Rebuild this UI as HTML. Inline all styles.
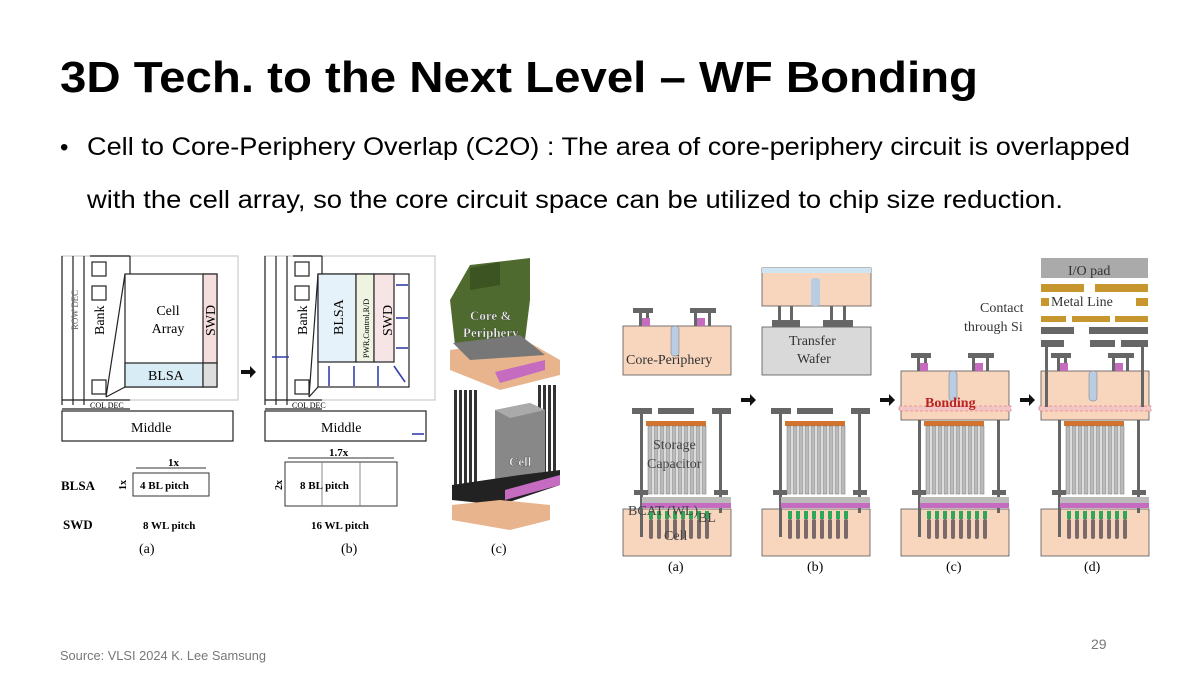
<!DOCTYPE html>
<html><head><meta charset="utf-8"><style>
html,body{margin:0;padding:0;background:#fff;}
svg{display:block;}
text{font-family:"Liberation Serif",serif;}
.s{font-family:"Liberation Sans",sans-serif;}
</style></head><body>
<svg width="1200" height="675" viewBox="0 0 1200 675" xmlns="http://www.w3.org/2000/svg">
<rect width="1200" height="675" fill="#fff"/>
<text class="s" x="60" y="92" font-size="44" font-weight="bold" textLength="918" lengthAdjust="spacingAndGlyphs">3D Tech. to the Next Level – WF Bonding</text>
<text class="s" x="60" y="155" font-size="24">•</text>
<text class="s" x="87" y="155" font-size="25" textLength="1043" lengthAdjust="spacingAndGlyphs">Cell to Core-Periphery Overlap (C2O) : The area of core-periphery circuit is overlapped</text>
<text class="s" x="87" y="208" font-size="25" textLength="976" lengthAdjust="spacingAndGlyphs">with the cell array, so the core circuit space can be utilized to chip size reduction.</text>
<text class="s" x="60" y="660" font-size="13" fill="#777" textLength="206" lengthAdjust="spacingAndGlyphs">Source: VLSI 2024 K. Lee Samsung</text>
<text class="s" x="1091" y="649" font-size="14" fill="#777">29</text>

<!-- LEFT (a) -->
<g stroke="#222" stroke-width="1.2" fill="none">
<rect x="62" y="256" width="176" height="144" stroke="#ccc"/>
<line x1="62" y1="256" x2="62" y2="405"/><line x1="73" y1="256" x2="73" y2="405"/><line x1="84" y1="256" x2="84" y2="405"/>
<line x1="90" y1="256" x2="130" y2="256"/><line x1="130" y1="256" x2="130" y2="274"/>
<rect x="92" y="262" width="14" height="14"/><rect x="92" y="286" width="14" height="14"/><rect x="92" y="380" width="14" height="14"/>
<line x1="106" y1="397" x2="125" y2="274"/><line x1="106" y1="397" x2="125" y2="387"/>
<rect x="125" y="274" width="92" height="113" fill="#fff"/>
<rect x="125" y="363" width="78" height="24" fill="#d8ecf5"/>
<rect x="203" y="274" width="14" height="89" fill="#f5dede"/>
<rect x="203" y="363" width="14" height="24" fill="#ddd"/>
<line x1="62" y1="400" x2="130" y2="400"/><line x1="62" y1="409" x2="130" y2="409"/>
<rect x="62" y="411" width="171" height="30" fill="#fff"/>
</g>
<text x="78" y="330" font-size="9" fill="#666" transform="rotate(-90 78 330)" textLength="40">ROW DEC</text>
<text x="104" y="335" font-size="14" transform="rotate(-90 104 335)">Bank</text>
<text x="168" y="315" font-size="14" text-anchor="middle">Cell</text>
<text x="168" y="333" font-size="14" text-anchor="middle">Array</text>
<text x="215" y="336" font-size="14" transform="rotate(-90 215 336)">SWD</text>
<text x="148" y="380" font-size="14">BLSA</text>
<text x="90" y="408" font-size="8">COL DEC</text>
<text x="131" y="432" font-size="14">Middle</text>
<path d="M241 370 h9 v-4 l6 6 l-6 6 v-4 h-9z" fill="#111"/>

<!-- LEFT (b) -->
<g stroke="#222" stroke-width="1.2" fill="none">
<rect x="265" y="256" width="170" height="144" stroke="#ccc"/>
<line x1="265" y1="256" x2="265" y2="405"/><line x1="276" y1="256" x2="276" y2="405"/><line x1="287" y1="256" x2="287" y2="405"/>
<line x1="293" y1="256" x2="322" y2="256"/><line x1="322" y1="256" x2="322" y2="274"/>
<rect x="295" y="262" width="14" height="14"/><rect x="295" y="286" width="14" height="14"/><rect x="295" y="380" width="14" height="14"/>
<line x1="309" y1="397" x2="318" y2="274"/><line x1="309" y1="397" x2="318" y2="387"/>
<rect x="318" y="274" width="91" height="113" fill="#fff"/>
<rect x="318" y="274" width="38" height="88" fill="#e6f2f9"/>
<rect x="356" y="274" width="18" height="88" fill="#eef3e2"/>
<rect x="374" y="274" width="20" height="88" fill="#f7e5e5"/>
<line x1="265" y1="400" x2="322" y2="400"/><line x1="265" y1="409" x2="322" y2="409"/>
<rect x="265" y="411" width="161" height="30" fill="#fff"/>
</g>
<g stroke="#3340aa" stroke-width="1.6" fill="none">
<line x1="329" y1="386" x2="329" y2="366"/><line x1="354" y1="386" x2="354" y2="366"/><line x1="378" y1="386" x2="378" y2="366"/>
<line x1="408" y1="285" x2="396" y2="285"/><line x1="408" y1="318" x2="396" y2="318"/><line x1="408" y1="348" x2="396" y2="348"/>
<line x1="405" y1="382" x2="394" y2="366"/><line x1="272" y1="357" x2="289" y2="357"/><line x1="424" y1="434" x2="412" y2="434"/>
</g>
<text x="343" y="335" font-size="14" transform="rotate(-90 343 335)">BLSA</text>
<text x="369" y="358" font-size="8" transform="rotate(-90 369 358)">PWR,Control,R/D</text>
<text x="392" y="336" font-size="14" transform="rotate(-90 392 336)">SWD</text>
<text x="307" y="335" font-size="14" transform="rotate(-90 307 335)">Bank</text>
<text x="292" y="408" font-size="8">COL DEC</text>
<text x="321" y="432" font-size="14">Middle</text>

<!-- bottom tables -->
<text x="61" y="490" font-size="13" font-weight="bold">BLSA</text>
<text x="63" y="529" font-size="13" font-weight="bold">SWD</text>
<rect x="133" y="473" width="76" height="23" fill="none" stroke="#333"/>
<line x1="136" y1="468" x2="206" y2="468" stroke="#333"/>
<text x="168" y="466" font-size="11" font-weight="bold">1x</text>
<text x="140" y="489" font-size="11" font-weight="bold">4 BL pitch</text>
<text x="126" y="490" font-size="10" font-weight="bold" transform="rotate(-90 126 490)">1x</text>
<text x="143" y="529" font-size="11" font-weight="bold">8 WL pitch</text>
<rect x="285" y="462" width="112" height="44" fill="none" stroke="#333"/>
<line x1="288" y1="458" x2="394" y2="458" stroke="#333"/>
<line x1="322" y1="462" x2="322" y2="506" stroke="#888"/><line x1="360" y1="462" x2="360" y2="506" stroke="#888"/>
<text x="329" y="456" font-size="11" font-weight="bold">1.7x</text>
<text x="300" y="489" font-size="11" font-weight="bold">8 BL pitch</text>
<text x="282" y="490" font-size="10" font-weight="bold" transform="rotate(-90 282 490)">2x</text>
<text x="311" y="529" font-size="11" font-weight="bold">16 WL pitch</text>
<text x="139" y="553" font-size="14">(a)</text>
<text x="341" y="553" font-size="14">(b)</text>
<text x="491" y="553" font-size="14">(c)</text>

<!-- LEFT (c) 3D -->
<polygon points="450,300 470,265 530,258 530,300 525,340 455,345" fill="#4e6a2e"/>
<polygon points="470,268 500,262 500,285 470,290" fill="#3c5422"/>
<text x="470" y="320" font-size="13" font-weight="bold" fill="#eee" stroke="#333" stroke-width="0.3">Core &amp;</text>
<text x="463" y="337" font-size="13" font-weight="bold" fill="#eee" stroke="#333" stroke-width="0.3">Periphery</text>
<polygon points="450,350 525,340 560,360 560,375 500,390 450,370" fill="#e8b48e"/>
<polygon points="453,343 520,335 545,355 470,360" fill="#777"/>
<polygon points="495,372 545,360 545,370 500,383" fill="#c56bc0"/>
<g fill="#333">
<rect x="454" y="390" width="3" height="95"/><rect x="459" y="390" width="3" height="95"/><rect x="464" y="390" width="3" height="95"/><rect x="469" y="390" width="3" height="95"/><rect x="474" y="390" width="3" height="95"/>
<rect x="538" y="385" width="3" height="90"/><rect x="543" y="385" width="3" height="90"/><rect x="548" y="385" width="3" height="90"/><rect x="553" y="385" width="3" height="90"/>
</g>
<polygon points="495,410 530,403 545,410 545,475 505,490 495,480" fill="#888"/>
<polygon points="495,410 530,403 545,410 510,418" fill="#aaa"/>
<text x="509" y="466" font-size="13" font-weight="bold" fill="#eee" stroke="#333" stroke-width="0.3">Cell</text>
<polygon points="452,485 520,475 560,470 560,485 500,505 452,500" fill="#222"/>
<polygon points="505,490 560,475 560,485 505,500" fill="#c56bc0"/>
<polygon points="452,505 500,500 550,505 550,520 510,530 452,520" fill="#e8b48e"/>

<!-- RIGHT figure -->
<defs>
<g id="cell">
<rect x="623" y="509" width="108" height="47" fill="#f8d5bd" stroke="#555" stroke-width="0.8"/>
<rect x="632" y="408" width="20" height="6" fill="#666"/><rect x="658" y="408" width="36" height="6" fill="#666"/><rect x="712" y="408" width="19" height="6" fill="#666"/>
<rect x="640" y="413" width="3" height="124" fill="#666"/><rect x="719" y="413" width="3" height="100" fill="#666"/>
<rect x="646" y="421" width="60" height="5" fill="#d3742e"/>
<g fill="#bbb" stroke="#777" stroke-width="0.5">
<rect x="648" y="426" width="4" height="68"/><rect x="654" y="426" width="4" height="68"/><rect x="660" y="426" width="4" height="68"/><rect x="666" y="426" width="4" height="68"/><rect x="672" y="426" width="4" height="68"/><rect x="678" y="426" width="4" height="68"/><rect x="684" y="426" width="4" height="68"/><rect x="690" y="426" width="4" height="68"/><rect x="696" y="426" width="4" height="68"/><rect x="702" y="426" width="4" height="68"/>
</g>
<rect x="634" y="490" width="14" height="5" fill="#666"/><rect x="714" y="490" width="14" height="5" fill="#666"/>
<rect x="642" y="497" width="89" height="6" fill="#bbb"/><rect x="642" y="503" width="89" height="5" fill="#c56bc0"/>
<g fill="#2fa55a"><rect x="649" y="511" width="4" height="8"/><rect x="657" y="511" width="4" height="8"/><rect x="665" y="511" width="4" height="8"/><rect x="673" y="511" width="4" height="8"/><rect x="681" y="511" width="4" height="8"/><rect x="689" y="511" width="4" height="8"/><rect x="697" y="511" width="4" height="8"/><rect x="705" y="511" width="4" height="8"/></g>
<g fill="#7a6a6a"><rect x="649" y="519" width="4" height="20" rx="2"/><rect x="657" y="519" width="4" height="20" rx="2"/><rect x="665" y="519" width="4" height="20" rx="2"/><rect x="673" y="519" width="4" height="20" rx="2"/><rect x="681" y="519" width="4" height="20" rx="2"/><rect x="689" y="519" width="4" height="20" rx="2"/><rect x="697" y="519" width="4" height="20" rx="2"/><rect x="705" y="519" width="4" height="20" rx="2"/></g>
</g>
<g id="cp">
<rect x="623" y="326" width="108" height="49" fill="#f8d5bd" stroke="#555" stroke-width="0.8"/>
<rect x="671" y="326" width="8" height="30" rx="3" fill="#b8cce4" stroke="#777" stroke-width="0.5"/>
<rect x="633" y="308" width="20" height="5" fill="#666"/><rect x="639" y="313" width="3" height="13" fill="#666"/><rect x="646" y="313" width="3" height="13" fill="#666"/>
<rect x="690" y="308" width="26" height="5" fill="#666"/><rect x="694" y="313" width="3" height="13" fill="#666"/><rect x="708" y="313" width="3" height="13" fill="#666"/>
<rect x="642" y="318" width="8" height="8" fill="#c56bc0"/><rect x="697" y="318" width="8" height="8" fill="#c56bc0"/>
</g>
</defs>
<use href="#cell"/>
<use href="#cell" transform="translate(139 0)"/>
<use href="#cell" transform="translate(278 0)"/>
<use href="#cell" transform="translate(418 0)"/>
<use href="#cp"/>
<use href="#cp" transform="translate(278 45)"/>
<use href="#cp" transform="translate(418 45)"/>
<text x="626" y="364" font-size="14" fill="#333">Core-Periphery</text>
<text x="653" y="449" font-size="14" fill="#444">Storage</text>
<text x="647" y="468" font-size="14" fill="#444">Capacitor</text>
<text x="698" y="522" font-size="14" fill="#444">BL</text>
<text x="628" y="515" font-size="14" fill="#444">BCAT (WL)</text>
<text x="664" y="540" font-size="14" fill="#444">Cell</text>
<!-- transfer wafer -->
<rect x="762" y="268" width="109" height="38" fill="#f8d5bd" stroke="#555" stroke-width="0.8"/>
<rect x="762" y="268" width="109" height="5" fill="#cfe6f2"/>
<rect x="811" y="278" width="9" height="28" rx="3" fill="#b8cce4"/>
<rect x="762" y="327" width="109" height="48" fill="#d9d9d9" stroke="#555" stroke-width="0.8"/>
<rect x="778" y="306" width="3" height="16" fill="#666"/><rect x="790" y="306" width="3" height="16" fill="#666"/><rect x="830" y="306" width="3" height="16" fill="#666"/><rect x="843" y="306" width="3" height="16" fill="#666"/>
<rect x="772" y="320" width="28" height="7" fill="#666"/><rect x="823" y="320" width="30" height="7" fill="#666"/>
<text x="789" y="345" font-size="14" fill="#333">Transfer</text>
<text x="797" y="363" font-size="14" fill="#333">Wafer</text>
<!-- bonding -->
<rect x="899" y="406" width="112" height="5" fill="#f3c6c6" stroke="#d66" stroke-dasharray="3 2" stroke-width="0.6"/>
<text x="925" y="407" font-size="14" fill="#b22" font-weight="bold">Bonding</text>
<rect x="1039" y="406" width="112" height="5" fill="#f3c6c6" stroke="#d66" stroke-dasharray="3 2" stroke-width="0.6"/>
<!-- (d) top -->
<rect x="1041" y="258" width="107" height="20" fill="#aaa"/>
<text x="1068" y="275" font-size="14" fill="#333">I/O pad</text>
<g fill="#c8962e">
<rect x="1041" y="284" width="43" height="8"/><rect x="1095" y="284" width="53" height="8"/>
<rect x="1041" y="298" width="8" height="8"/><rect x="1136" y="298" width="12" height="8"/>
<rect x="1041" y="316" width="25" height="6"/><rect x="1072" y="316" width="38" height="6"/><rect x="1115" y="316" width="33" height="6"/>
</g>
<text x="1051" y="306" font-size="14" fill="#333">Metal Line</text>
<g fill="#666">
<rect x="1041" y="327" width="33" height="7"/><rect x="1089" y="327" width="59" height="7"/>
<rect x="1041" y="340" width="23" height="7"/><rect x="1090" y="340" width="25" height="7"/><rect x="1121" y="340" width="27" height="7"/>
<rect x="1045" y="347" width="3" height="60"/><rect x="1141" y="347" width="3" height="60"/>
</g>
<text x="980" y="312" font-size="14" fill="#333">Contact</text>
<text x="964" y="331" font-size="14" fill="#333">through Si</text>
<path d="M741 398 h9 v-4 l6 6 l-6 6 v-4 h-9z" fill="#111"/>
<path d="M880 398 h9 v-4 l6 6 l-6 6 v-4 h-9z" fill="#111"/>
<path d="M1020 398 h9 v-4 l6 6 l-6 6 v-4 h-9z" fill="#111"/>
<text x="668" y="571" font-size="14">(a)</text>
<text x="807" y="571" font-size="14">(b)</text>
<text x="946" y="571" font-size="14">(c)</text>
<text x="1084" y="571" font-size="14">(d)</text>
</svg>
</body></html>
